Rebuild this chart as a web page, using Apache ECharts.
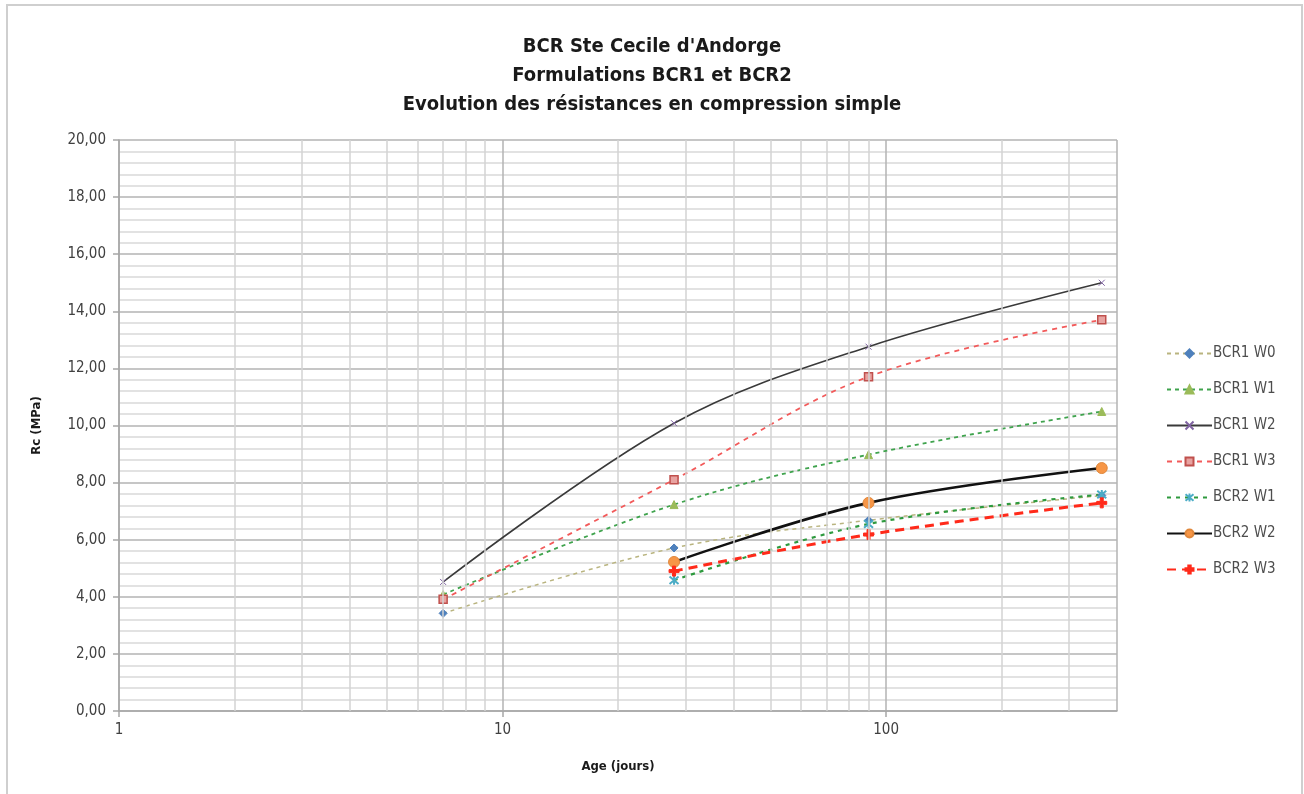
<!DOCTYPE html>
<html>
<head>
<meta charset="utf-8">
<script src="https://cdn.jsdelivr.net/npm/echarts@6/dist/echarts.min.js"></script>
<style>
  html, body { margin: 0; padding: 0; background: #ffffff; }
  #chart { width: 1304px; height: 794px; }
</style>
</head>
<body>
<div id="chart"></div>
<script>
// Curing age (days) and compressive strength Rc (MPa) for each mix
const ages = [7, 28, 90, 365];
const agesBCR2 = [28, 90, 365];
const bcr1W0 = [3.42, 5.71, 6.68, 7.55];
const bcr1W1 = [4.08, 7.23, 8.98, 10.49];
const bcr1W2 = [4.52, 10.08, 12.76, 15.00];
const bcr1W3 = [3.91, 8.10, 11.71, 13.70];
const bcr2W1 = [4.58, 6.55, 7.58];
const bcr2W2 = [5.22, 7.29, 8.51];
const bcr2W3 = [4.90, 6.18, 7.29];
// Log-axis minor gridlines (days)
const minorDays = [2, 3, 4, 5, 6, 7, 8, 9, 20, 30, 40, 50, 60, 70, 80, 90, 200, 300];
const titleLines = ["BCR Ste Cecile d'Andorge", "Formulations BCR1 et BCR2", "Evolution des résistances en compression simple"];

const FONT = "'Liberation Sans Narrow', 'DejaVu Sans Condensed', 'Liberation Sans', sans-serif";
const pairs = (xs, ys) => xs.map((x, i) => [x, ys[i]]);

const X_MARK = 'path://M0,0L10,10M10,0L0,10';
const STAR_MARK = 'path://M0,0L10,10M10,0L0,10M5,-1L5,11';
const PLUS_MARK = 'path://M3.5,0h3v3.5h3.5v3h-3.5v3.5h-3v-3.5h-3.5v-3h3.5z';

function lineSeries(name, data, color, width, dash, symbol, symbolSize, markColor, opts) {
  return Object.assign({
    name: name,
    type: 'line',
    data: data,
    smooth: 0.35,
    z: 3,
    lineStyle: { color: color, width: width, type: dash },
    symbol: symbol,
    symbolSize: symbolSize,
    itemStyle: { color: markColor, borderColor: markColor, borderWidth: 1 }
  }, opts || {});
}

const chart = echarts.init(document.getElementById('chart'), null, { renderer: 'canvas' });

chart.setOption({
  backgroundColor: '#ffffff',
  animation: false,
  graphic: [{
    type: 'rect',
    shape: { x: 7, y: 5, width: 1295, height: 800 },
    style: { fill: 'none', stroke: '#cfcfcf', lineWidth: 2 },
    silent: true
  }],
  title: {
    text: titleLines.join('\n'),
    left: 'center',
    top: 27,
    textStyle: { fontFamily: FONT, fontWeight: 'bold', fontSize: 20, lineHeight: 29, color: '#1a1a1a' }
  },
  legend: {
    orient: 'vertical',
    left: 1161,
    top: 341,
    itemWidth: 45,
    itemHeight: 10,
    itemGap: 21,
    data: ['BCR1 W0', 'BCR1 W1', 'BCR1 W2', 'BCR1 W3', 'BCR2 W1', 'BCR2 W2', 'BCR2 W3'],
    textStyle: { fontFamily: FONT, fontSize: 15, color: '#4d4d4d', padding: [0, 0, 0, -4] }
  },
  grid: { left: 119, top: 140, right: 187, bottom: 83, containLabel: false },
  xAxis: {
    type: 'log',
    logBase: 10,
    min: 1,
    max: 400,
    name: 'Age (jours)',
    nameLocation: 'middle',
    nameGap: 49,
    nameTextStyle: { fontFamily: FONT, fontWeight: 'bold', fontSize: 13, color: '#1a1a1a' },
    axisLine: { show: true, lineStyle: { color: '#a6a6a6', width: 1.5 } },
    axisTick: { show: true, length: 6, lineStyle: { color: '#a6a6a6', width: 1.5 } },
    axisLabel: {
      showMaxLabel: false,
      margin: 12,
      fontFamily: FONT, fontSize: 15, color: '#404040',
      formatter: v => String(Math.round(v))
    },
    splitLine: { show: true, lineStyle: { color: '#b3b3b3', width: 1.5 } }
  },
  yAxis: {
    type: 'value',
    min: 0,
    max: 20,
    interval: 2,
    name: 'Rc (MPa)',
    nameLocation: 'middle',
    nameGap: 76,
    nameRotate: 90,
    nameTextStyle: { fontFamily: FONT, fontWeight: 'bold', fontSize: 13, color: '#1a1a1a' },
    axisLine: { show: true, lineStyle: { color: '#a6a6a6', width: 1.5 } },
    axisTick: { show: true, length: 6, lineStyle: { color: '#a6a6a6', width: 1.5 } },
    axisLabel: {
      margin: 13,
      fontFamily: FONT, fontSize: 15, color: '#404040',
      formatter: v => v.toFixed(2).replace('.', ',')
    },
    splitLine: { show: true, lineStyle: { color: '#b3b3b3', width: 1.5 } },
    minorTick: { show: false, splitNumber: 5 },
    minorSplitLine: { show: true, lineStyle: { color: '#d9d9d9', width: 1.5 } }
  },
  series: [
    {
      name: 'minor-days',
      type: 'line',
      data: [],
      silent: true,
      z: 1,
      markLine: {
        silent: true,
        symbol: ['none', 'none'],
        label: { show: false },
        lineStyle: { color: '#d3d3d3', width: 1.5, type: 'solid' },
        data: minorDays.map(d => ({ xAxis: d }))
      }
    },
    lineSeries('BCR1 W0', pairs(ages, bcr1W0), '#b9b47f', 1.5, [4, 4], 'diamond', 8, '#4f81bd'),
    lineSeries('BCR1 W1', pairs(ages, bcr1W1), '#3fa34d', 1.8, [4, 4], 'triangle', 8, '#9bbb59'),
    lineSeries('BCR1 W2', pairs(ages, bcr1W2), '#3a3a3a', 1.6, 'solid', X_MARK, 6, '#8064a2'),
    lineSeries('BCR1 W3', pairs(ages, bcr1W3), '#f25a5a', 1.8, [5, 5], 'rect', 8, '#c0504d',
      { itemStyle: { color: '#e8a3a1', borderColor: '#c0504d', borderWidth: 1.5 } }),
    lineSeries('BCR2 W1', pairs(agesBCR2, bcr2W1), '#2e9a3e', 2.2, [4, 5], STAR_MARK, 9, '#4bacc6',
      { itemStyle: { color: '#4bacc6', borderColor: '#4bacc6', borderWidth: 2 } }),
    lineSeries('BCR2 W2', pairs(agesBCR2, bcr2W2), '#111111', 2.6, 'solid', 'circle', 11, '#f79646',
      { itemStyle: { color: '#f79646', borderColor: '#e0883c', borderWidth: 1 } }),
    lineSeries('BCR2 W3', pairs(agesBCR2, bcr2W3), '#ff2a1a', 3, [9, 6], PLUS_MARK, 10, '#ff2a1a')
  ]
});
</script>
</body>
</html>
